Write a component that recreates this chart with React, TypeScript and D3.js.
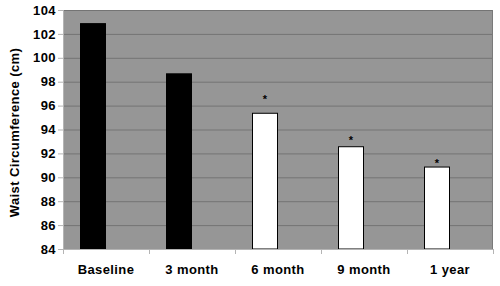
import React, { useEffect, useRef } from 'react';
import * as d3 from 'd3';

const categories = ['Baseline', '3 month', '6 month', '9 month', '1 year'];
const waist = [102.9, 98.7, 95.4, 92.6, 90.9];
// which series the bar belongs to (black = pre, white = post)
const seriesOf = ['pre', 'pre', 'post', 'post', 'post'];
// y value where the significance asterisk sits (null = none)
const asteriskAt: (number | null)[] = [null, null, 96.7, 93.3, 91.4];
const yTicks = [84, 86, 88, 90, 92, 94, 96, 98, 100, 102, 104];

export default function App() {
  const ref = useRef<SVGSVGElement | null>(null);

  useEffect(() => {
    if (!ref.current) return;
    const svg = d3.select(ref.current);
    svg.selectAll('*').remove();

    const margin = { top: 10, right: 7, bottom: 37, left: 63 };
    const width = 500;
    const height = 286;
    const innerWidth = width - margin.left - margin.right;
    const innerHeight = height - margin.top - margin.bottom;
    const font = 'Arial, "Liberation Sans", sans-serif';

    const g = svg.append('g').attr('transform', `translate(${margin.left},${margin.top})`);

    const x = d3.scaleBand().domain(categories).range([0, innerWidth]).paddingInner(0).paddingOuter(0);
    // Excel-style cluster: two slots per category, bars all use the first slot
    const slot = d3.scaleBand().domain(['a', 'b']).range([0, x.bandwidth()]).paddingInner(0).paddingOuter(0.654);

    const y = d3.scaleLinear().domain([84, 104]).range([innerHeight, 0]);

    // plot background
    g.append('rect')
      .attr('width', innerWidth)
      .attr('height', innerHeight)
      .attr('fill', '#969696');

    // gridlines
    g.selectAll('line.grid')
      .data(yTicks.filter(d => d !== 84))
      .join('line')
      .attr('class', 'grid')
      .attr('x1', 0)
      .attr('x2', innerWidth)
      .attr('y1', d => y(d) + 0.5)
      .attr('y2', d => y(d) + 0.5)
      .attr('stroke', '#747474')
      .attr('stroke-width', 1);

    // right border
    g.append('line')
      .attr('x1', innerWidth - 0.5)
      .attr('x2', innerWidth - 0.5)
      .attr('y1', 0)
      .attr('y2', innerHeight)
      .attr('stroke', '#7a7a7a');

    // bars
    g.selectAll('rect.bar')
      .data(categories)
      .join('rect')
      .attr('class', 'bar')
      .attr('x', d => x(d)! + slot('a')! + 0.5)
      .attr('y', (d, i) => y(waist[i]) + 0.5)
      .attr('width', slot.bandwidth() - 1)
      .attr('height', (d, i) => innerHeight - y(waist[i]) - 0.5)
      .attr('fill', (d, i) => (seriesOf[i] === 'pre' ? '#000000' : '#ffffff'))
      .attr('stroke', '#000000')
      .attr('stroke-width', 1);

    // asterisks
    g.selectAll('text.star')
      .data(categories.filter((d, i) => asteriskAt[i] !== null))
      .join('text')
      .attr('class', 'star')
      .attr('x', d => x(d)! + slot('a')! + slot.bandwidth() / 2)
      .attr('y', d => y(asteriskAt[categories.indexOf(d)]!) + 6)
      .attr('text-anchor', 'middle')
      .attr('font-family', font)
      .attr('font-weight', 'bold')
      .attr('font-size', 11)
      .attr('fill', '#000')
      .text('*');

    // y axis
    const yAxis = g.append('g').call(d3.axisLeft(y).tickValues(yTicks).tickSize(5).tickPadding(2).tickFormat(d3.format('d')));
    yAxis.select('.domain').attr('stroke', '#b4b4b4').attr('d', `M0.5,0V${innerHeight}`);
    yAxis.selectAll('.tick line').attr('stroke', '#b4b4b4');
    yAxis.selectAll('.tick text')
      .attr('font-family', font)
      .attr('font-weight', 'bold')
      .attr('font-size', 13)
      .attr('letter-spacing', 0.4)
      .attr('fill', '#000');

    // x axis
    const xAxis = g.append('g')
      .attr('transform', `translate(0,${innerHeight})`)
      .call(d3.axisBottom(x).tickSize(0).tickPadding(16));
    xAxis.select('.domain').attr('stroke', '#b4b4b4').attr('d', `M-5,0.5H${innerWidth}`);
    xAxis.selectAll('.tick text')
      .attr('font-family', font)
      .attr('font-weight', 'bold')
      .attr('font-size', 13)
      .attr('letter-spacing', 0.4)
      .attr('fill', '#000');
    xAxis.selectAll('line.sep')
      .data(d3.range(categories.length + 1))
      .join('line')
      .attr('class', 'sep')
      .attr('x1', i => (i < categories.length ? x(categories[i])! : innerWidth) + 0.5)
      .attr('x2', i => (i < categories.length ? x(categories[i])! : innerWidth) + 0.5)
      .attr('y1', 0)
      .attr('y2', 5)
      .attr('stroke', '#b4b4b4');

    // y title
    svg.append('text')
      .attr('transform', `translate(19,${margin.top + innerHeight / 2 + 3}) rotate(-90)`)
      .attr('text-anchor', 'middle')
      .attr('font-family', font)
      .attr('font-weight', 'bold')
      .attr('font-size', 13)
      .attr('letter-spacing', 0.4)
      .attr('fill', '#000')
      .text('Waist Circumference (cm)');
  }, []);

  return (
    <svg
      ref={ref}
      width={500}
      height={286}
      style={{ position: 'absolute', left: 0, top: 0, background: '#ffffff' }}
    />
  );
}
